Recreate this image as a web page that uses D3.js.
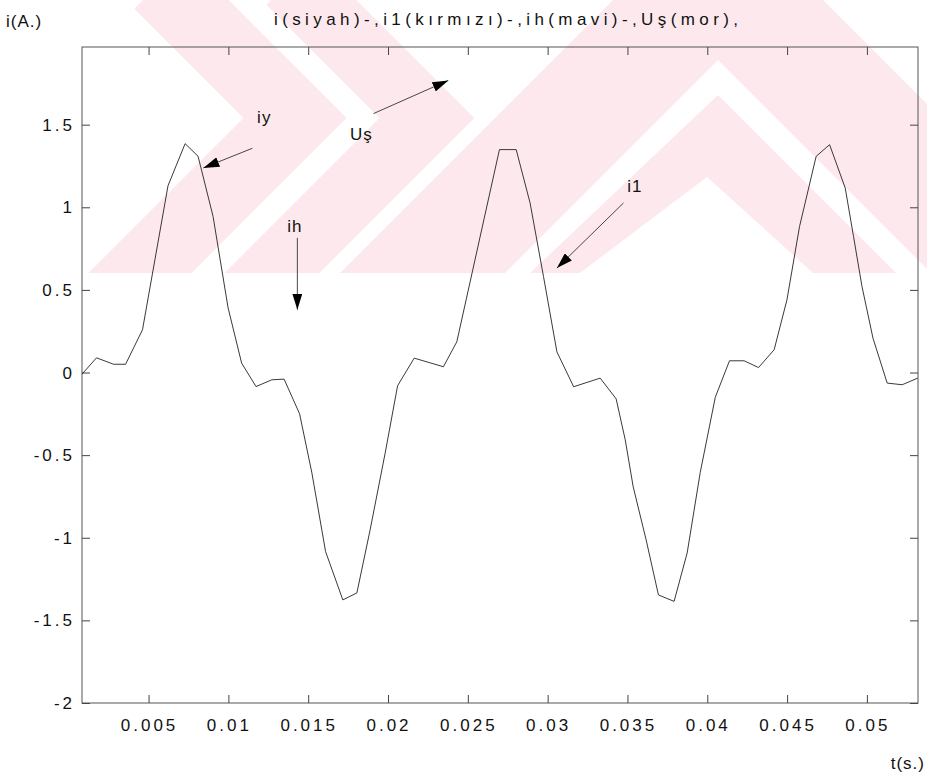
<!DOCTYPE html>
<html>
  <head>
    <meta charset="utf-8">
    <script src="https://cdn.jsdelivr.net/npm/d3@7"></script>
    <style>
      body { margin: 0; background: #fff; }
      text { font-family: "Liberation Sans", Arial, sans-serif; fill: #111; }
    </style>
  </head>
  <body>
    <svg width="927" height="775"></svg>
    <script>

      // time (s) and current (A)
      var tValues = [0.00083, 0.00174, 0.00281, 0.00356, 0.00462, 0.00622, 0.00729, 0.00810, 0.00904, 0.00998,
                     0.01083, 0.01173, 0.01272, 0.01349, 0.01446, 0.01523, 0.01609, 0.01717, 0.01805, 0.01888,
                     0.01982, 0.02060, 0.02164, 0.02347, 0.02431, 0.02698, 0.02803, 0.02890, 0.02974, 0.03058,
                     0.03163, 0.03329, 0.03429, 0.03486, 0.03536, 0.03617, 0.03694, 0.03792, 0.03874, 0.03956,
                     0.04050, 0.04139, 0.04231, 0.04321, 0.04419, 0.04499, 0.04578, 0.04682, 0.04766, 0.04864,
                     0.04916, 0.04969, 0.05038, 0.05127, 0.05221, 0.05318];
      var iValues = [-0.01, 0.089, 0.050, 0.050, 0.259, 1.131, 1.385, 1.309, 0.945, 0.392,
                     0.057, -0.085, -0.044, -0.040, -0.250, -0.607, -1.084, -1.376, -1.334, -0.952,
                     -0.488, -0.080, 0.087, 0.035, 0.186, 1.349, 1.349, 1.026, 0.581, 0.125,
                     -0.086, -0.034, -0.159, -0.407, -0.692, -1.013, -1.346, -1.385, -1.092, -0.604,
                     -0.150, 0.071, 0.071, 0.030, 0.138, 0.440, 0.884, 1.308, 1.379, 1.117,
                     0.824, 0.521, 0.208, -0.064, -0.074, -0.034];

      var xTicks = [0.005, 0.01, 0.015, 0.02, 0.025, 0.03, 0.035, 0.04, 0.045, 0.05];
      var yTicks = [-2, -1.5, -1, -0.5, 0, 0.5, 1, 1.5];

      // arrow annotations: label position and arrow start/end, in data units
      var notes = [
        {label: "iy", t: 0.0118, v: 1.512, t0: 0.0115, v0: 1.357, t1: 0.00843, v1: 1.238},
        {label: "Uş", t: 0.01762, v: 1.409, t0: 0.01909, v0: 1.567, t1: 0.02378, v1: 1.768},
        {label: "ih", t: 0.01368, v: 0.852, t0: 0.01432, v0: 0.815, t1: 0.01432, v1: 0.380},
        {label: "i1", t: 0.03498, v: 1.094, t0: 0.03475, v0: 1.026, t1: 0.03058, v1: 0.632}
      ];

      var svg = d3.select("svg");
      var padLeft = 82, padRight = 918, padTop = 47, padBottom = 703;

      // faint watermark in the back (scanned page logo), cut at y = 273
      var wm = svg.append("g");
      wm.append("clipPath").attr("id", "wmclip")
        .append("rect").attr("x", 0).attr("y", 0).attr("width", 927).attr("height", 273);
      var wmg = wm.append("g").attr("clip-path", "url(#wmclip)");
      var wmColor = "#fde9ed";
      // two ">" bands on the left
      wmg.append("path")
        .attr("d", d3.line()([[0, 413], [295, 118], [160, -17]]))
        .attr("fill", "none").attr("stroke", wmColor).attr("stroke-width", 73)
        .attr("stroke-linejoin", "miter");
      wmg.append("path")
        .attr("d", d3.line()([[130, 415], [427, 118], [290, -19]]))
        .attr("fill", "none").attr("stroke", wmColor).attr("stroke-width", 67)
        .attr("stroke-linejoin", "miter");
      // two roof shapes on the right
      wmg.append("path")
        .attr("d", d3.line()([[340, 273], [613, 0], [823, 0], [1096, 273], [931, 273], [718, 60], [505, 273]]) + "Z")
        .attr("fill", wmColor);
      wmg.append("path")
        .attr("d", d3.line()([[530, 273], [718, 95], [896, 273], [813, 273], [707, 177], [580, 273]]) + "Z")
        .attr("fill", wmColor);

      var x = d3.scaleLinear().domain([0.00083, 0.0532]).range([padLeft, padRight]);
      var y = d3.scaleLinear().domain([-2, 1.97]).range([padBottom, padTop]);

      // frame
      svg.append("rect")
        .attr("x", padLeft).attr("y", padTop)
        .attr("width", padRight - padLeft).attr("height", padBottom - padTop)
        .attr("fill", "none").attr("stroke", "#555").attr("stroke-width", 1);

      // ticks point inwards on all four sides, like matlab
      svg.append("g").attr("transform", "translate(0," + padBottom + ")")
        .call(d3.axisTop(x).tickValues(xTicks).tickSize(8).tickFormat(""))
        .call(function(g) { g.select(".domain").remove(); });
      svg.append("g").attr("transform", "translate(0," + padTop + ")")
        .call(d3.axisBottom(x).tickValues(xTicks).tickSize(8).tickFormat(""))
        .call(function(g) { g.select(".domain").remove(); });
      svg.append("g").attr("transform", "translate(" + padLeft + ",0)")
        .call(d3.axisRight(y).tickValues(yTicks).tickSize(8).tickFormat(""))
        .call(function(g) { g.select(".domain").remove(); });
      svg.append("g").attr("transform", "translate(" + padRight + ",0)")
        .call(d3.axisLeft(y).tickValues(yTicks).tickSize(8).tickFormat(""))
        .call(function(g) { g.select(".domain").remove(); });
      svg.selectAll(".tick line").attr("stroke", "#444");

      // tick labels
      svg.selectAll(".xlab")
        .data(xTicks)
        .enter()
        .append("text")
        .attr("class", "xlab")
        .attr("x", function(d) { return x(d) + 1; })
        .attr("y", 731)
        .attr("text-anchor", "middle")
        .style("font-size", "17px")
        .style("letter-spacing", "3px")
        .text(function(d) { return String(d); });

      svg.selectAll(".ylab")
        .data(yTicks)
        .enter()
        .append("text")
        .attr("class", "ylab")
        .attr("x", 75)
        .attr("y", function(d) { return y(d) + 6; })
        .attr("text-anchor", "end")
        .style("font-size", "17px")
        .style("letter-spacing", "3px")
        .text(function(d) { return String(d); });

      // the current curve
      var pts = tValues.map(function(t, k) { return [t, iValues[k]]; });
      svg.append("path")
        .datum(pts)
        .attr("fill", "none")
        .attr("stroke", "#222")
        .attr("stroke-width", 0.9)
        .attr("d", d3.line()
          .x(function(d) { return x(d[0]); })
          .y(function(d) { return y(d[1]); }));

      // titles
      svg.append("text")
        .attr("x", 274).attr("y", 25)
        .attr("textLength", 464).attr("lengthAdjust", "spacing")
        .style("font-size", "17px")
        .text("i(siyah)-,i1(kırmızı)-,ih(mavi)-,Uş(mor),");
      svg.append("text")
        .attr("x", 6).attr("y", 27)
        .style("font-size", "17px")
        .style("letter-spacing", "1px")
        .text("i(A.)");
      svg.append("text")
        .attr("x", 925).attr("y", 769)
        .attr("text-anchor", "end")
        .style("font-size", "17px")
        .style("letter-spacing", "1px")
        .text("t(s.)");

      // arrows
      svg.append("defs").append("marker")
        .attr("id", "head")
        .attr("viewBox", "0 0 16 10")
        .attr("refX", 16).attr("refY", 5)
        .attr("markerWidth", 16).attr("markerHeight", 10)
        .attr("markerUnits", "userSpaceOnUse")
        .attr("orient", "auto")
        .append("path").attr("d", "M0,0L16,5L0,10Z").attr("fill", "#000");

      svg.selectAll(".arrow")
        .data(notes)
        .enter()
        .append("line")
        .attr("class", "arrow")
        .attr("x1", function(d) { return x(d.t0); })
        .attr("y1", function(d) { return y(d.v0); })
        .attr("x2", function(d) { return x(d.t1); })
        .attr("y2", function(d) { return y(d.v1); })
        .attr("stroke", "#333")
        .attr("stroke-width", 0.9)
        .attr("marker-end", "url(#head)");

      svg.selectAll(".note")
        .data(notes)
        .enter()
        .append("text")
        .attr("class", "note")
        .attr("x", function(d) { return x(d.t); })
        .attr("y", function(d) { return y(d.v); })
        .style("font-size", "17px")
        .style("letter-spacing", "1px")
        .text(function(d) { return d.label; });

    </script>
  </body>
</html>
